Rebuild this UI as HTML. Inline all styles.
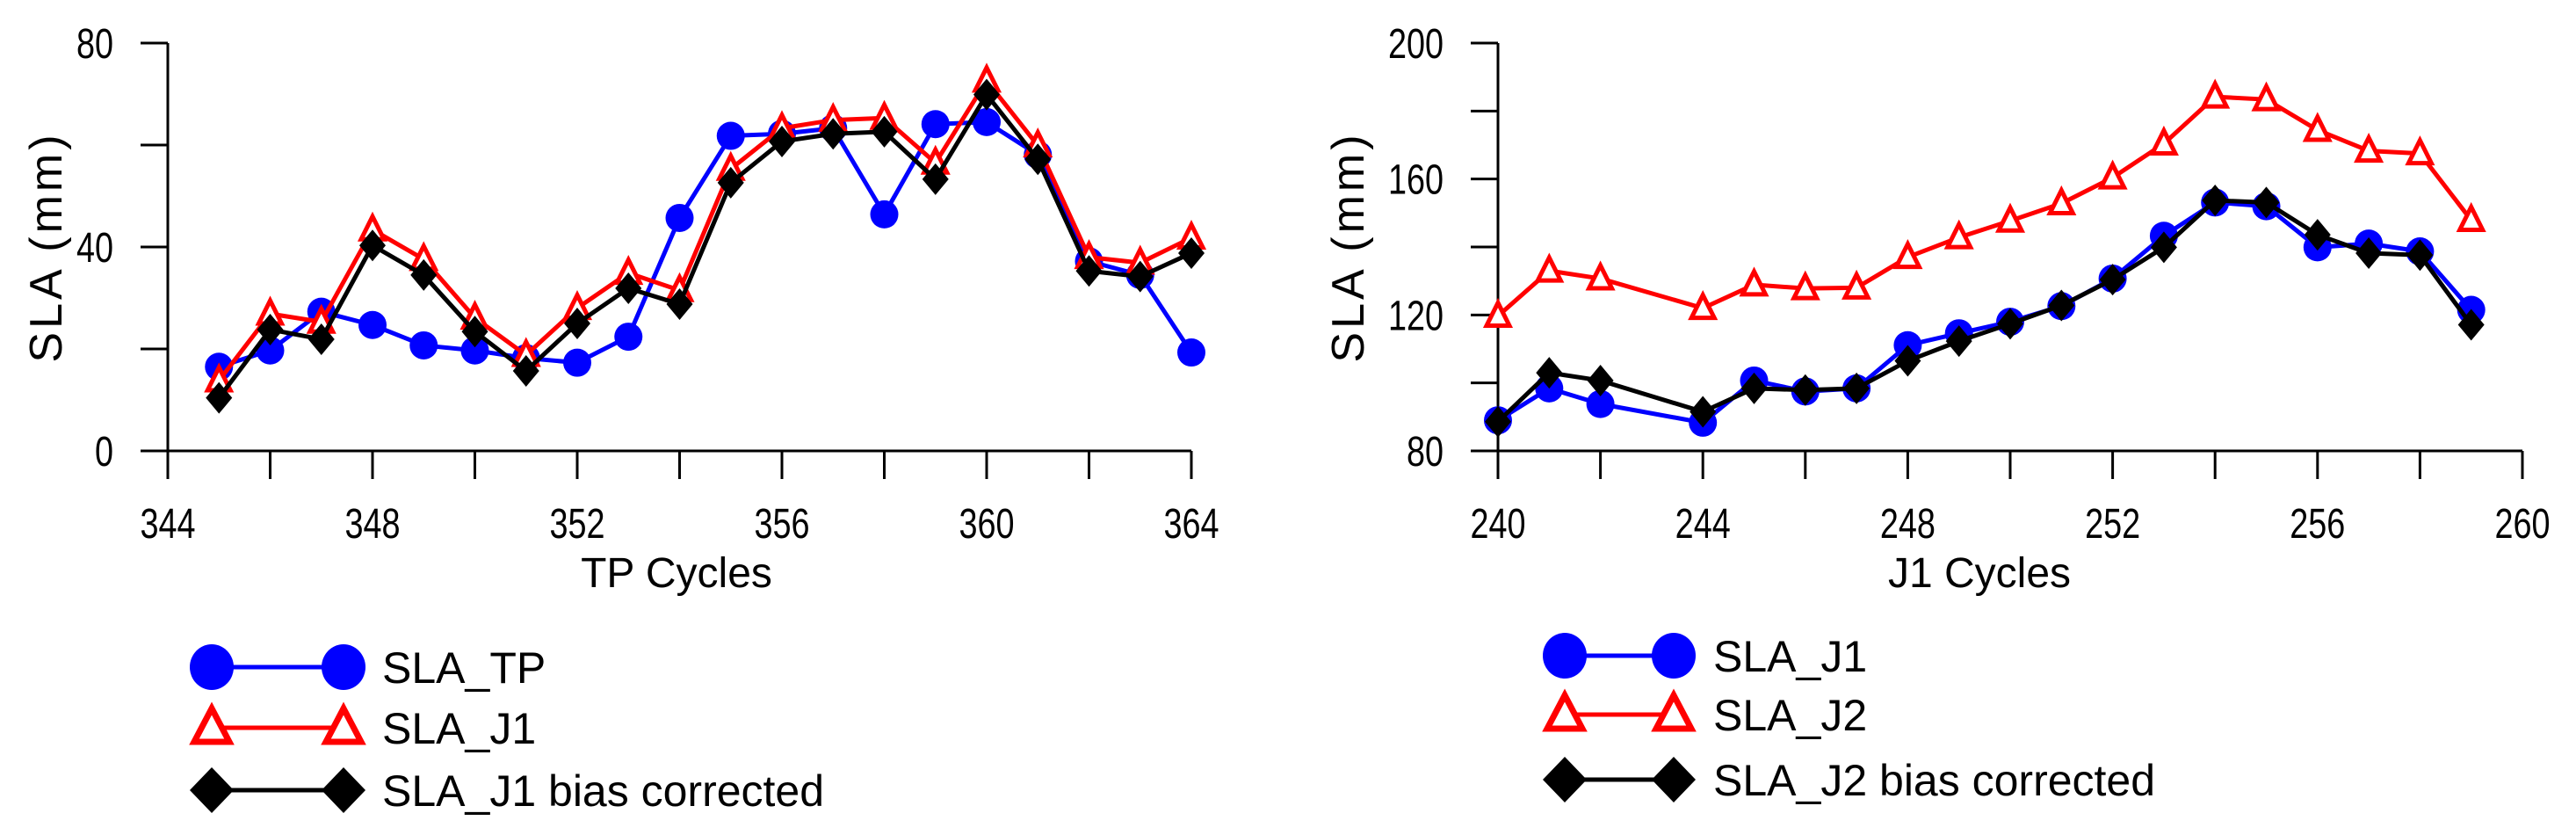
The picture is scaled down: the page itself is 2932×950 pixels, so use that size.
<!DOCTYPE html>
<html><head><meta charset="utf-8"><style>
html,body{margin:0;padding:0;background:#fff;}
svg{display:block;}
text{font-family:"Liberation Sans",Arial,sans-serif;fill:#000;}
</style></head><body>
<svg id="chart" width="2932" height="950" viewBox="0 0 2932 950" xmlns="http://www.w3.org/2000/svg"></svg>
<script>
// ---- Left panel data ----
const leftCycles = [345,346,347,348,349,350,351,352,353,354,355,356,357,358,359,360,361,362,363,364];
const leftTP = [16.5,19.7,27.3,24.7,20.7,19.7,18.2,17.3,22.4,45.7,61.8,62.2,63.3,46.4,64.1,64.5,58.1,37.2,34.5,19.3];
const leftJ1 = [13.8,26.9,25.3,43.4,37.6,26.1,18.8,28,34.9,31.5,55.3,63.3,64.9,65.3,56.5,72.6,59.9,38,36.9,41.8];
const leftJ1bc = [10.4,23.8,21.9,40.3,34.5,23.4,15.7,25,31.9,28.8,52.6,60.7,62.2,62.6,53.3,69.9,57.2,35.3,34.2,38.8];
const leftXTicks = [344,346,348,350,352,354,356,358,360,362,364];
const leftXLabels = [344,348,352,356,360,364];
const leftYTicks = [0,20,40,60,80];
const leftYLabels = [0,40,80];
// ---- Right panel data ----
const rightCycles = [240,241,242,244,245,246,247,248,249,250,251,252,253,254,255,256,257,258,259];
const rightJ1 = [89,98.4,93.8,88.3,100.7,97.5,98.4,111.1,114.6,118,122.6,130.7,143.3,153.1,152,139.9,141,138.7,121.5];
const rightJ2 = [119.7,133,130.7,122,128.9,127.8,128,137,142.8,147.7,152.8,160.4,170.4,184.2,183.4,174.4,168.3,167.5,147.9];
const rightJ2bc = [88.6,103,100.7,91.5,98.4,97.9,98.4,106.5,112.3,117.4,122.8,130.4,139.9,153.7,153.1,143.6,138.2,137.6,117.1];
const rightXTicks = [240,242,244,246,248,250,252,254,256,258,260];
const rightXLabels = [240,244,248,252,256,260];
const rightYTicks = [80,100,120,140,160,180,200];
const rightYLabels = [80,120,160,200];

const NS = "http://www.w3.org/2000/svg";
const svg = document.getElementById('chart');
function mk(tag, attrs, parent){
  const e = document.createElementNS(NS, tag);
  for (const k in attrs) e.setAttribute(k, attrs[k]);
  (parent||svg).appendChild(e);
  return e;
}
function makeScale(d0,d1,p0,p1){ return v => p0 + (v-d0)*(p1-p0)/(d1-d0); }

function marker(g, type, cx, cy, color){
  let m;
  if (type==='circle'){
    m = mk('ellipse',{cx:cx,cy:cy,rx:16,ry:16,fill:color},g);
  } else if (type==='tri'){
    m = mk('polygon',{points:`${cx},${cy-15} ${cx-13},${cy+11} ${cx+13},${cy+11}`,fill:'#fff',stroke:color,'stroke-width':5,'stroke-linejoin':'miter'},g);
  } else {
    m = mk('polygon',{points:`${cx},${cy-18} ${cx+15},${cy} ${cx},${cy+18} ${cx-15},${cy}`,fill:color},g);
  }
  return m;
}

function panel(cfg){
  const xs = makeScale(cfg.xmin,cfg.xmax,cfg.x0,cfg.x1);
  const ys = makeScale(cfg.ymin,cfg.ymax,513,49);
  const g = mk('g',{});
  
  
  const ax = mk('g',{},g);
  
  
  mk('line',{x1:cfg.x0,y1:ys(cfg.ymin),x2:cfg.x1,y2:ys(cfg.ymin),stroke:'#000','stroke-width':3},ax);
  mk('line',{x1:cfg.x0,y1:ys(cfg.ymax),x2:cfg.x0,y2:ys(cfg.ymin)+32,stroke:'#000','stroke-width':3},ax);
  cfg.xTicks.forEach(v=>{
    mk('line',{x1:xs(v),y1:ys(cfg.ymin),x2:xs(v),y2:ys(cfg.ymin)+32,stroke:'#000','stroke-width':3},ax);
  });
  cfg.yTicks.forEach(v=>{
    mk('line',{x1:cfg.x0-31,y1:ys(v),x2:cfg.x0,y2:ys(v),stroke:'#000','stroke-width':3},ax);
  });
  cfg.xLabels.forEach(v=>{
    const t = mk('text',{x:0,y:0,'font-size':42,'text-anchor':'middle',transform:`translate(${xs(v)},612) scale(0.9,1.15)`},ax);
    t.textContent = v;
    
    
  });
  cfg.yLabels.forEach(v=>{
    const t = mk('text',{x:0,y:0,'font-size':42,'text-anchor':'end',transform:`translate(${cfg.x0-62},${ys(v)+17}) scale(0.9,1.15)`},ax);
    t.textContent = v;
    
    
  });
  const xt = mk('text',{x:cfg.xTitleX,y:668,'font-size':48,'text-anchor':'middle'},g);
  xt.textContent = cfg.xTitle;
  
  
  const yt = mk('text',{x:0,y:0,'font-size':52,'letter-spacing':4,'text-anchor':'middle',transform:`translate(${cfg.yTitleX},281) rotate(-90)`},g);
  yt.textContent = 'SLA (mm)';
  
  
  cfg.series.forEach(s=>{
    const sg = mk('g',{},g);
    
    
    const pts = cfg.cats.map((c,i)=>xs(c)+','+ys(s.vals[i])).join(' ');
    const pl = mk('polyline',{points:pts,fill:'none',stroke:s.color,'stroke-width':5,'stroke-linejoin':'round'},sg);
    
    
    cfg.cats.forEach((c,i)=>{
      const m = marker(sg, s.marker, xs(c), ys(s.vals[i]), s.color);
      
      
    });
  });
  const lg = mk('g',{},g);
  
  
  cfg.series.forEach((s,i)=>{
    const y = cfg.legY[i];
    const eg = mk('g',{},lg);
    
    
    mk('line',{x1:cfg.legX1,y1:y,x2:cfg.legX2,y2:y,stroke:s.color,'stroke-width':5},eg);
    const big = (type,cx)=>{
      if (type==='circle') mk('ellipse',{cx:cx,cy:y,rx:25,ry:26,fill:s.color},eg);
      else if (type==='tri') mk('polygon',{points:`${cx},${y-22} ${cx-20},${y+16} ${cx+20},${y+16}`,fill:'#fff',stroke:s.color,'stroke-width':7},eg);
      else mk('polygon',{points:`${cx},${y-26} ${cx+25},${y} ${cx},${y+26} ${cx-25},${y}`,fill:s.color},eg);
    };
    big(s.marker,cfg.legX1); big(s.marker,cfg.legX2);
    const t = mk('text',{x:cfg.legTX,y:y+18,'font-size':50},eg);
    t.textContent = s.label;
  });
}

panel({name:'tp-panel',xmin:344,xmax:364,ymin:0,ymax:80,x0:191,x1:1356,
  cats:leftCycles,xTicks:leftXTicks,xLabels:leftXLabels,yTicks:leftYTicks,yLabels:leftYLabels,
  xTitle:'TP Cycles',xTitleX:770,yTitleX:70,
  legX1:241,legX2:391,legTX:435,legY:[759,828,899],
  series:[
    {name:'series-sla-tp',label:'SLA_TP',vals:leftTP,color:'#0000ff',marker:'circle'},
    {name:'series-sla-j1',label:'SLA_J1',vals:leftJ1,color:'#ff0000',marker:'tri'},
    {name:'series-sla-j1-bias-corrected',label:'SLA_J1 bias corrected',vals:leftJ1bc,color:'#000000',marker:'diamond'}
  ]});

panel({name:'j1-panel',xmin:240,xmax:260,ymin:80,ymax:200,x0:1705,x1:2871,
  cats:rightCycles,xTicks:rightXTicks,xLabels:rightXLabels,yTicks:rightYTicks,yLabels:rightYLabels,
  xTitle:'J1 Cycles',xTitleX:2253,yTitleX:1552,
  legX1:1781,legX2:1905,legTX:1950,legY:[746,813,887],
  series:[
    {name:'series-sla-j1',label:'SLA_J1',vals:rightJ1,color:'#0000ff',marker:'circle'},
    {name:'series-sla-j2',label:'SLA_J2',vals:rightJ2,color:'#ff0000',marker:'tri'},
    {name:'series-sla-j2-bias-corrected',label:'SLA_J2 bias corrected',vals:rightJ2bc,color:'#000000',marker:'diamond'}
  ]});
</script>
</body></html>
